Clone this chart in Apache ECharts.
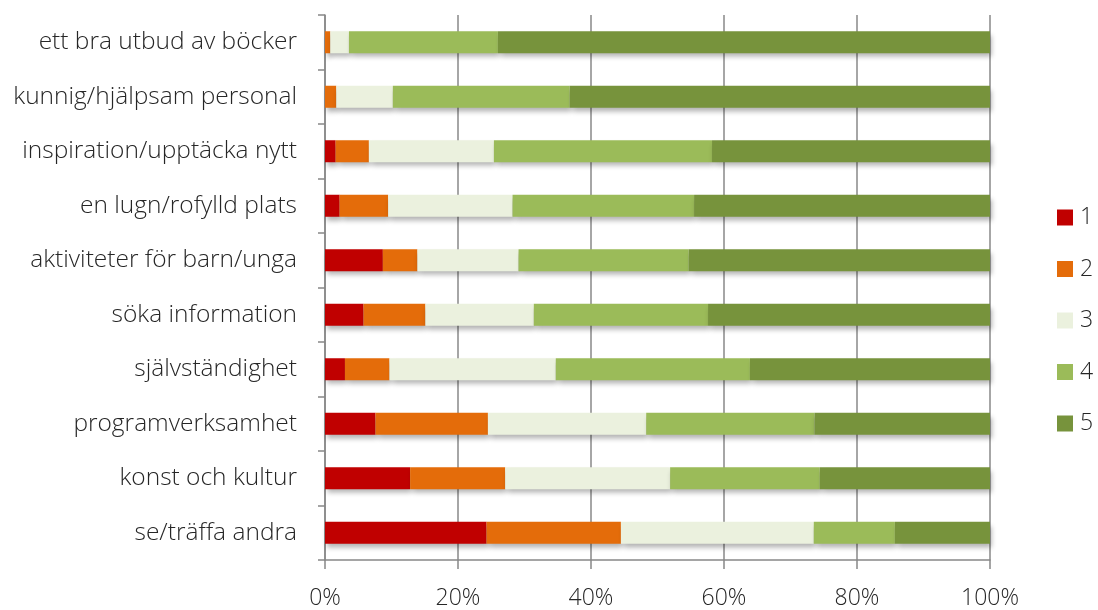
<!DOCTYPE html>
<html>
<head>
<meta charset="utf-8">
<script src="https://cdn.jsdelivr.net/npm/echarts@6/dist/echarts.min.js"></script>
<style>
html,body{margin:0;padding:0;background:#fff;}
#c{width:1098px;height:610px;}
</style>
</head>
<body>
<div id="c"></div>
<script>
const categories = [
  "ett bra utbud av böcker",
  "kunnig/hjälpsam personal",
  "inspiration/upptäcka nytt",
  "en lugn/rofylld plats",
  "aktiviteter för barn/unga",
  "söka information",
  "självständighet",
  "programverksamhet",
  "konst och kultur",
  "se/träffa andra"
];
const seriesNames = ["1", "2", "3", "4", "5"];
const s1 = [0.0, 0.0, 1.6, 2.2, 8.7, 5.8, 3.0, 7.6, 12.8, 24.3];
const s2 = [0.8, 1.7, 5.0, 7.3, 5.2, 9.3, 6.7, 16.9, 14.3, 20.2];
const s3 = [2.8, 8.5, 18.8, 18.7, 15.2, 16.3, 25.0, 23.8, 24.8, 29.0];
const s4 = [22.4, 26.6, 32.8, 27.3, 25.6, 26.2, 29.2, 25.3, 22.5, 12.2];
const s5 = [74.0, 63.2, 41.8, 44.5, 45.3, 42.4, 36.1, 26.4, 25.6, 14.3];
const xTicks = [0, 20, 40, 60, 80, 100];
const colors = ["#C00000", "#E46C0A", "#EBF1DE", "#9BBB59", "#77933C"];
const values = [s1, s2, s3, s4, s5];

const font = "'Open Sans', 'Noto Sans', sans-serif";
const axisColor = "#888888";
const textColor = "#262626";

const chart = echarts.init(document.getElementById('c'));
chart.setOption({
  animation: false,
  textStyle: { fontFamily: font },
  grid: { left: 325, right: 108, top: 15, bottom: 49, containLabel: false },
  legend: {
    orient: 'vertical',
    left: 1057,
    top: 206,
    padding: 0,
    itemWidth: 16,
    itemHeight: 16,
    itemGap: 28.5,
    icon: 'rect',
    data: seriesNames,
    textStyle: { fontSize: 23, fontWeight: 300, color: textColor, fontFamily: font, padding: [0, 0, 0, 2] }
  },
  xAxis: {
    type: 'value',
    min: xTicks[0],
    max: xTicks[xTicks.length - 1],
    interval: 20,
    axisLine: { show: true, lineStyle: { color: axisColor, width: 1.5 } },
    axisTick: { show: true, length: 9, lineStyle: { color: axisColor, width: 1.5 } },
    splitLine: { show: true, lineStyle: { color: axisColor, width: 1.5 } },
    axisLabel: { formatter: '{value}%', fontSize: 23, fontWeight: 300, color: textColor, margin: 27, fontFamily: font }
  },
  yAxis: {
    type: 'category',
    inverse: true,
    data: categories,
    axisLine: { show: true, lineStyle: { color: axisColor, width: 1.5 } },
    axisTick: { show: true, length: 7, lineStyle: { color: axisColor, width: 1.5 } },
    axisLabel: { fontSize: 24.5, fontWeight: 300, color: textColor, margin: 28, fontFamily: font }
  },
  series: seriesNames.map((name, i) => ({
    name: name,
    type: 'bar',
    stack: 'total',
    barWidth: 22,
    data: values[i],
    itemStyle: {
      color: colors[i],
      shadowColor: 'rgba(0,0,0,0.3)',
      shadowBlur: 5,
      shadowOffsetX: 2,
      shadowOffsetY: 4
    },
    emphasis: { disabled: true }
  }))
});
</script>
</body>
</html>
